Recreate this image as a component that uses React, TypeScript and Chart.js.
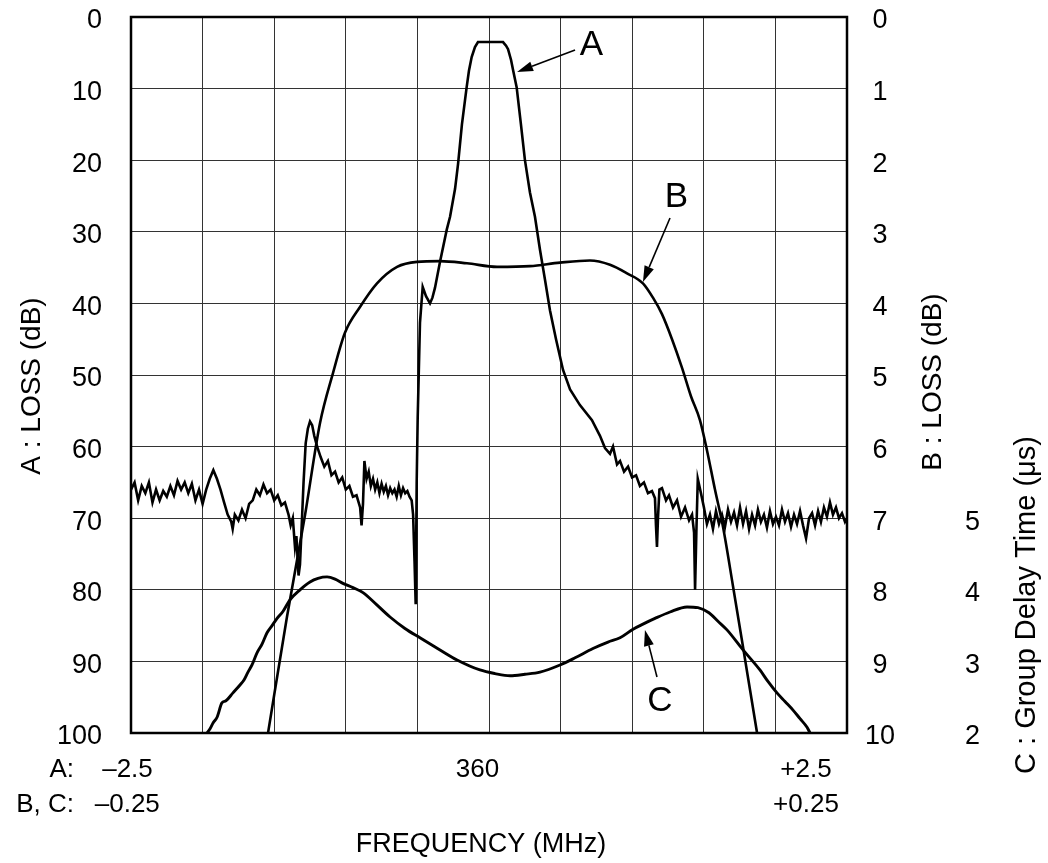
import React, { useEffect, useRef } from "react";
import { Chart, registerables } from "chart.js";

Chart.register(...registerables);

const FONT = '"Liberation Sans", Arial, Helvetica, sans-serif';

// Curve A: frequency offset from 360 MHz (MHz, ±2.5 scale) and loss (dB, 0–100)
const aFreq = [
  -2.5, -2.475, -2.45, -2.425, -2.4, -2.375, -2.35, -2.325, -2.3, -2.275, -2.25, -2.225, -2.2, -2.175, -2.15, -2.125,
  -2.1, -2.075, -2.05, -2.025, -2.0, -1.975, -1.95, -1.925, -1.9, -1.875, -1.85, -1.825, -1.8, -1.79, -1.775, -1.75,
  -1.725, -1.7, -1.675, -1.65, -1.625, -1.6, -1.575, -1.55, -1.525, -1.5, -1.475, -1.45, -1.425, -1.4, -1.385, -1.37,
  -1.355, -1.345, -1.33, -1.32, -1.31, -1.295, -1.28, -1.265, -1.25, -1.235, -1.22, -1.2, -1.175, -1.15, -1.125, -1.1,
  -1.075, -1.05, -1.025, -1.0, -0.975, -0.95, -0.925, -0.9, -0.89, -0.88, -0.87, -0.855, -0.84, -0.825, -0.81, -0.795,
  -0.78, -0.765, -0.75, -0.735, -0.72, -0.705, -0.69, -0.675, -0.66, -0.645, -0.63, -0.615, -0.6, -0.585, -0.57, -0.555,
  -0.54, -0.53, -0.52, -0.512, -0.505, -0.498, -0.482, -0.463, -0.44, -0.412, -0.395, -0.377, -0.342, -0.295, -0.272,
  -0.237, -0.216, -0.189, -0.156, -0.14, -0.121, -0.098, -0.077, 0.0, 0.098, 0.119, 0.133, 0.154, 0.168, 0.193, 0.223,
  0.251, 0.286, 0.321, 0.356, 0.391, 0.426, 0.468, 0.517, 0.566, 0.635, 0.719, 0.775, 0.81, 0.845, 0.866, 0.894, 0.915,
  0.943, 0.971, 0.999, 1.027, 1.054, 1.082, 1.11, 1.138, 1.159, 1.166, 1.173, 1.18, 1.19, 1.208, 1.236, 1.257, 1.285,
  1.313, 1.341, 1.369, 1.397, 1.418, 1.432, 1.439, 1.448, 1.458, 1.48, 1.501, 1.522, 1.543, 1.564, 1.585, 1.606, 1.627,
  1.648, 1.669, 1.69, 1.711, 1.732, 1.753, 1.774, 1.795, 1.816, 1.837, 1.858, 1.878, 1.899, 1.92, 1.941, 1.962, 1.983,
  2.004, 2.025, 2.046, 2.067, 2.088, 2.109, 2.13, 2.151, 2.172, 2.193, 2.214, 2.235, 2.256, 2.277, 2.298, 2.318, 2.339,
  2.36, 2.381, 2.402, 2.423, 2.444, 2.465, 2.486, 2.5,
];
const aLoss = [
  66.0, 65.0, 67.5, 65.5, 66.5, 65.0, 67.8, 66.0, 67.5, 66.2, 67.0, 65.5, 66.8, 64.8, 66.0, 65.0,
  66.5, 65.2, 67.5, 66.0, 68.0, 66.0, 64.5, 63.3, 64.5, 66.0, 67.8, 69.5, 70.5, 71.5, 69.5, 70.3,
  68.8, 70.0, 68.0, 67.5, 66.0, 66.8, 65.3, 66.5, 66.0, 67.5, 66.8, 68.2, 67.8, 69.5, 71.0, 70.0,
  74.0, 72.5, 78.0, 76.5, 72.0, 65.0, 59.5, 57.5, 56.5, 57.0, 58.5, 60.0, 61.5, 62.8, 62.0, 64.0,
  63.5, 65.0, 64.3, 66.0, 65.5, 67.0, 66.8, 68.5, 71.0, 68.0, 62.0, 64.5, 63.5, 65.5, 64.5, 66.0,
  65.0, 66.5, 65.2, 66.3, 65.5, 66.8, 65.8, 66.5, 66.0, 67.0, 65.5, 66.8, 65.8, 66.5, 66.2, 67.0,
  67.5, 69.5, 76.0, 82.0, 65.0, 56.0, 42.7, 37.7, 39.0, 40.0, 39.2, 37.8, 34.2, 29.7, 27.9,
  24.0, 20.5, 15.0, 9.8, 7.5, 5.6, 4.2, 3.5, 3.5, 3.5, 4.0, 4.5, 6.0, 7.4, 9.8, 15.0,
  20.0, 24.5, 27.9, 32.5, 36.7, 41.0, 45.0, 49.3, 52.0, 54.2, 56.3, 58.5, 60.2, 61.0, 60.0, 62.5, 62.0,
  63.5, 62.8, 64.3, 64.0, 65.5, 65.0, 66.5, 66.2, 67.2, 71.0, 74.0, 70.0, 66.0, 65.8, 67.5, 66.8, 68.5,
  67.5, 69.8, 68.5, 70.3, 69.5, 72.0, 80.0, 72.0, 64.5, 66.5, 68.5, 70.8, 69.5, 71.5, 69.0, 70.8, 69.5,
  71.2, 68.8, 70.5, 69.2, 71.0, 68.5, 70.8, 69.0, 71.5, 69.5, 71.0, 68.8, 70.5, 69.5, 71.3, 69.0, 70.8,
  69.8, 71.0, 68.8, 70.5, 69.3, 71.2, 69.5, 70.8, 69.0, 71.0, 72.8, 70.0, 69.3, 71.0, 69.0, 70.5, 68.5,
  69.8, 67.8, 69.5, 68.5, 70.0, 69.3, 70.5, 70.0,
];

// Curve B: frequency offset (MHz, ±0.25 scale) and loss (dB, 0–10)
const bFreq = [
  -0.1543, -0.1411, -0.1285, -0.118, -0.1089, -0.1006, -0.0901, -0.0782, -0.0642, -0.0503, -0.0342, -0.0154,
  0.0056, 0.0286, 0.0496, 0.0705, 0.0845, 0.0964, 0.1075, 0.1145, 0.1208, 0.1278, 0.1348, 0.1411, 0.1473,
  0.1522, 0.1578, 0.1634, 0.1704, 0.1774, 0.1823, 0.1872,
];
const bLoss = [
  10.0, 8.38, 6.96, 5.67, 4.97, 4.41, 4.05, 3.72, 3.49, 3.42, 3.41, 3.44,
  3.49, 3.48, 3.43, 3.4, 3.46, 3.58, 3.72, 3.92, 4.15, 4.5, 4.9, 5.3, 5.63,
  6.05, 6.6, 7.12, 7.95, 8.8, 9.4, 10.0,
];

// Curve C: frequency offset (MHz, ±0.25 scale) and group delay time (µs)
const cFreq = [
  -0.1969, -0.1948, -0.1927, -0.1899, -0.1865, -0.1837, -0.1788, -0.1739, -0.1711, -0.1683, -0.1655, -0.162,
  -0.1585, -0.155, -0.1515, -0.148, -0.1438, -0.139, -0.132, -0.125, -0.1194, -0.1131, -0.1075, -0.102, -0.095,
  -0.088, -0.0789, -0.0691, -0.0587, -0.0482, -0.0342, -0.0223, -0.0063, 0.0042, 0.0147, 0.0251, 0.0356, 0.0496,
  0.0601, 0.0726, 0.0831, 0.0915, 0.1006, 0.1075, 0.1159, 0.1264, 0.1383, 0.1459, 0.1536, 0.1599, 0.1662, 0.1774,
  0.1892, 0.1948, 0.2011, 0.2067, 0.2123, 0.2172, 0.2221, 0.2242,
];
const cDelay = [
  2.0, 2.06, 2.14, 2.22, 2.42, 2.45, 2.56, 2.67, 2.74, 2.85, 2.95, 3.12,
  3.24, 3.4, 3.5, 3.6, 3.7, 3.86, 4.0, 4.11, 4.16, 4.18, 4.15, 4.09, 4.03,
  3.96, 3.8, 3.62, 3.46, 3.33, 3.16, 3.02, 2.88, 2.83, 2.8, 2.82, 2.85, 2.95,
  3.05, 3.18, 3.27, 3.33, 3.45, 3.52, 3.6, 3.69, 3.76, 3.75, 3.68, 3.56, 3.44, 3.16,
  2.88, 2.72, 2.56, 2.44, 2.32, 2.2, 2.08, 2.0,
];

// Axis texts
const xRowALabels = ["\u20132.5", "360", "+2.5"];
const xRowBCLabels = ["\u20130.25", "+0.25"];
const xTitle = "FREQUENCY (MHz)";
const yTitleA = "A : LOSS (dB)";
const yTitleB = "B : LOSS (dB)";
const yTitleC = "C : Group Delay Time (\u03bcs)";

// Curve labels with arrows, in A-axis units (MHz, dB): [label x, label y, tail x, tail y, tip x, tip y]
const curveLabels = ["A", "B", "C"];
const curveLabelPos = [
  [0.716, 3.84, 0.601, 4.61, 0.196, 7.68],
  [1.309, 25.0, 1.264, 28.07, 1.075, 37.0],
  [1.194, 95.46, 1.173, 92.18, 1.089, 85.6],
];

export default function App() {
  const ref = useRef<HTMLCanvasElement>(null);

  useEffect(() => {
    const canvas = ref.current;
    if (!canvas) return;
    const ctx = canvas.getContext("2d");
    if (!ctx) return;

    const overlay = {
      id: "overlay",
      afterDatasetsDraw(chart: any) {
        const c = chart.ctx;
        const a = chart.chartArea;
        c.save();
        c.strokeStyle = "#000";
        c.lineWidth = 2.5;
        c.strokeRect(a.left, a.top, a.right - a.left, a.bottom - a.top);
        c.restore();
      },
      afterDraw(chart: any) {
        const c = chart.ctx;
        const a = chart.chartArea;
        const xA = chart.scales.xA;
        const xBC = chart.scales.xBC;
        const yA = chart.scales.yA;
        c.save();
        c.fillStyle = "#000";
        c.textBaseline = "alphabetic";
        c.font = `26px ${FONT}`;
        // row A
        const l = xA.getPixelForValue(-2.5);
        const m = xA.getPixelForValue(0);
        const r = xA.getPixelForValue(2.5);
        c.textAlign = "right";
        c.fillText("A:", l - 57, 777);
        c.textAlign = "center";
        c.fillText(xRowALabels[0], l - 3.5, 777);
        c.fillText(xRowALabels[1], m - 11.5, 777);
        c.fillText(xRowALabels[2], r - 41, 777);
        // row B, C
        const l2 = xBC.getPixelForValue(-0.25);
        const r2 = xBC.getPixelForValue(0.25);
        c.textAlign = "right";
        c.fillText("B, C:", l2 - 57, 812);
        c.textAlign = "center";
        c.fillText(xRowBCLabels[0], l2 - 3.7, 812);
        c.fillText(xRowBCLabels[1], r2 - 41, 812);
        // x title
        c.font = `27px ${FONT}`;
        c.fillText(xTitle, m - 8, 852);

        // y titles (rotated, reading bottom-to-top)
        const midY = (a.top + a.bottom) / 2;
        const drawV = (t: string, x: number, y: number) => {
          c.save();
          c.translate(x, y);
          c.rotate(-Math.PI / 2);
          c.textAlign = "center";
          c.textBaseline = "middle";
          c.fillText(t, 0, 0);
          c.restore();
        };
        c.font = `28px ${FONT}`;
        drawV(yTitleA, 32, midY + 11);
        drawV(yTitleB, 933, midY + 7);
        c.font = `29px ${FONT}`;
        drawV(yTitleC, 1027, midY + 230);

        // curve labels with arrows
        c.font = `35px ${FONT}`;
        c.textAlign = "center";
        c.textBaseline = "middle";
        c.lineWidth = 1.6;
        c.strokeStyle = "#000";
        curveLabels.forEach((t, i) => {
          const p = curveLabelPos[i];
          const lx = xA.getPixelForValue(p[0]);
          const ly = yA.getPixelForValue(p[1]);
          c.fillText(t, lx, ly + 1);
          const tx = xA.getPixelForValue(p[2]);
          const ty = yA.getPixelForValue(p[3]);
          const hx = xA.getPixelForValue(p[4]);
          const hy = yA.getPixelForValue(p[5]);
          const ang = Math.atan2(hy - ty, hx - tx);
          const hl = 16;
          const hw = 5;
          const bx = hx - hl * Math.cos(ang);
          const by = hy - hl * Math.sin(ang);
          c.beginPath();
          c.moveTo(tx, ty);
          c.lineTo(bx, by);
          c.stroke();
          c.beginPath();
          c.moveTo(hx, hy);
          c.lineTo(bx + hw * Math.sin(ang), by - hw * Math.cos(ang));
          c.lineTo(bx - hw * Math.sin(ang), by + hw * Math.cos(ang));
          c.closePath();
          c.fill();
        });
        c.restore();
      },
    };

    const tickFont = { family: FONT, size: 27 };
    const clear = "rgba(0,0,0,0)";

    const chart = new Chart(ctx, {
      type: "line",
      data: {
        datasets: [
          {
            label: "A",
            data: aFreq.map((x, i) => ({ x, y: aLoss[i] })),
            xAxisID: "xA",
            yAxisID: "yA",
            borderColor: "#000",
            borderWidth: 2.6,
            pointRadius: 0,
            tension: 0,
          },
          {
            label: "B",
            data: bFreq.map((x, i) => ({ x, y: bLoss[i] })),
            xAxisID: "xBC",
            yAxisID: "yB",
            borderColor: "#000",
            borderWidth: 2.6,
            pointRadius: 0,
            cubicInterpolationMode: "monotone",
          },
          {
            label: "C",
            data: cFreq.map((x, i) => ({ x, y: cDelay[i] })),
            xAxisID: "xBC",
            yAxisID: "yC",
            borderColor: "#000",
            borderWidth: 2.9,
            pointRadius: 0,
            cubicInterpolationMode: "monotone",
          },
        ],
      } as any,
      options: {
        animation: false,
        responsive: false,
        layout: { padding: { top: 17, bottom: 130, left: 0, right: 0 } },
        plugins: { legend: { display: false }, tooltip: { enabled: false } },
        scales: {
          xA: {
            type: "linear",
            position: "bottom",
            min: -2.5,
            max: 2.5,
            ticks: { display: false, stepSize: 0.5 },
            grid: { color: "#333", lineWidth: 1, drawTicks: false },
            border: { display: false },
          },
          xBC: { type: "linear", display: false, min: -0.25, max: 0.25 },
          yA: {
            type: "linear",
            position: "left",
            reverse: true,
            min: 0,
            max: 100,
            ticks: { stepSize: 10, font: tickFont, color: "#000", padding: 0, labelOffset: 4 },
            grid: { color: "#333", lineWidth: 1, drawTicks: true, tickLength: 29, tickColor: clear },
            border: { display: false },
            afterFit: (s: any) => {
              s.width = 131;
            },
          },
          yB: {
            type: "linear",
            position: "right",
            reverse: true,
            min: 0,
            max: 10,
            ticks: { stepSize: 1, font: tickFont, color: "#000", padding: 0, crossAlign: "center", labelOffset: 4 },
            grid: { display: true, drawOnChartArea: false, drawTicks: true, tickLength: 18, tickColor: clear, color: clear },
            border: { display: false },
            afterFit: (s: any) => {
              s.width = 110;
            },
          },
          yC: {
            type: "linear",
            position: "right",
            weight: 1,
            min: 2,
            max: 12,
            ticks: {
              stepSize: 1,
              font: tickFont,
              color: "#000",
              padding: 0,
              crossAlign: "center",
              labelOffset: 4,
              callback: (v: any) => (Number(v) <= 5 ? String(v) : ""),
            },
            grid: { display: true, drawOnChartArea: false, drawTicks: true, tickLength: 8, tickColor: clear, color: clear },
            border: { display: false },
            afterFit: (s: any) => {
              s.width = 91;
            },
          },
        },
      } as any,
      plugins: [overlay],
    });

    return () => chart.destroy();
  }, []);

  return (
    <div style={{ position: "absolute", left: 0, top: 0, width: 1048, height: 863, background: "#fff" }}>
      <canvas ref={ref} width={1048} height={863} style={{ width: 1048, height: 863, display: "block" }} />
    </div>
  );
}
